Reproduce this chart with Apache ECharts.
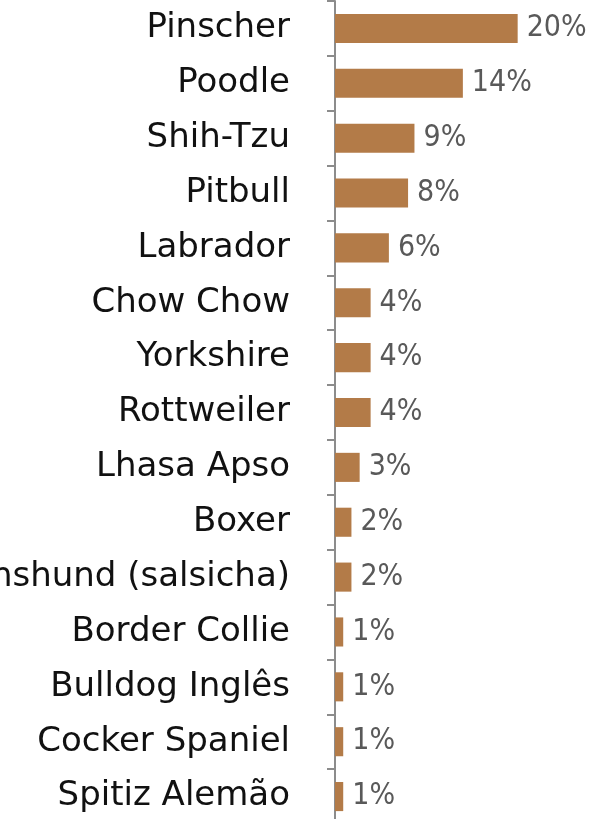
<!DOCTYPE html>
<html><head><meta charset="utf-8">
<script src="https://cdn.jsdelivr.net/npm/echarts@6/dist/echarts.min.js"></script>
<style>html,body{margin:0;padding:0;overflow:hidden;background:#fff}#c{width:595px;height:824px}</style>
</head><body><div id="c"></div>
<script>
const categories = ["Pinscher","Poodle","Shih-Tzu","Pitbull","Labrador","Chow Chow","Yorkshire","Rottweiler","Lhasa Apso","Boxer","Dachshund (salsicha)","Border Collie","Bulldog Inglês","Cocker Spaniel","Spitiz Alemão"];
const values = [20, 14, 8.7, 8, 5.9, 3.9, 3.9, 3.9, 2.7, 1.8, 1.8, 0.9, 0.9, 0.9, 0.9];
const chart = echarts.init(document.getElementById('c'));
chart.setOption({
  animation:false,
  grid:{left:335, right:7, top:1, bottom:0, containLabel:false, outerBoundsMode:'none'},
  xAxis:{type:'value', min:0, max:27.7, show:false},
  yAxis:{type:'category', data:categories, inverse:true,
    axisLine:{lineStyle:{color:'#8c8c8c', width:2}},
    axisTick:{show:true, length:8, lineStyle:{color:'#8c8c8c', width:2}},
    axisLabel:{color:'#111111', fontSize:34, fontFamily:'DejaVu Sans', margin:45, padding:[6,0,0,0]}},
  series:[{type:'bar', data:values, barCategoryGap:'47%', itemStyle:{color:'#B37B48'},
    label:{show:true, position:'right', distance:9, color:'#595959', fontSize:30, fontFamily:'"DejaVu Sans Condensed"', padding:[4,0,0,0],
      formatter:p=>Math.round(p.value)+'%'}}]
});
</script></body></html>
